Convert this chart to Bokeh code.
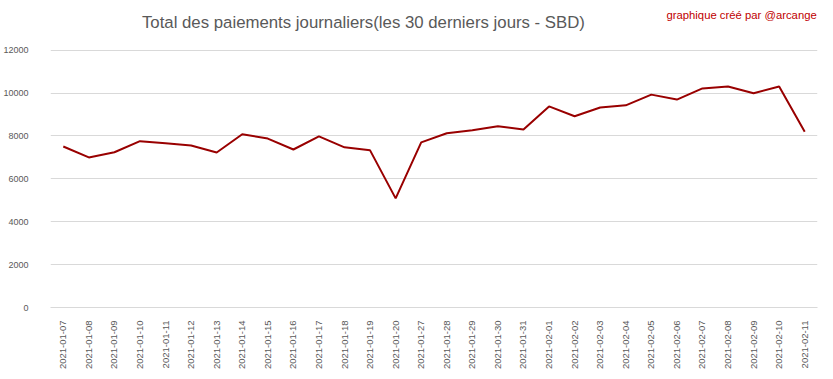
from bokeh.plotting import figure
from bokeh.models import FactorRange, Range1d, FixedTicker
from bokeh.core.properties import value
from bokeh.embed import file_html
from bokeh.resources import INLINE
import math

dates = ["2021-01-07", "2021-01-08", "2021-01-09", "2021-01-10", "2021-01-11",
         "2021-01-12", "2021-01-13", "2021-01-14", "2021-01-15", "2021-01-16",
         "2021-01-17", "2021-01-18", "2021-01-19", "2021-01-20", "2021-01-27",
         "2021-01-28", "2021-01-29", "2021-01-30", "2021-01-31", "2021-02-01",
         "2021-02-02", "2021-02-03", "2021-02-04", "2021-02-05", "2021-02-06",
         "2021-02-07", "2021-02-08", "2021-02-09", "2021-02-10", "2021-02-11"]
payments = [7510, 7000, 7240, 7760, 7660, 7560, 7230, 8080, 7880, 7370,
            7980, 7470, 7330, 5090, 7700, 8130, 8270, 8450, 8300, 9380,
            8920, 9330, 9430, 9930, 9700, 10220, 10310, 9990, 10310, 8200]
y_ticks = [0, 2000, 4000, 6000, 8000, 10000, 12000]

title_text = "Total des paiements journaliers(les 30 derniers jours - SBD)"
credit_text = "graphique créé par @arcange"

p = figure(frame_width=767, frame_height=298, x_range=FactorRange(*dates),
           y_range=Range1d(0, 13900), output_backend="svg",
           toolbar_location=None, min_border_left=43, min_border_right=7,
           min_border_top=9, min_border_bottom=10)
p.outline_line_color = None
p.background_fill_color = "white"
p.border_fill_color = "white"

p.line(x=dates, y=payments, line_color="#990000", line_width=2)

p.text(x=[12.24], y=[13300], text=[title_text], text_align="center",
       text_baseline="middle", text_font=value("Liberation Sans"),
       text_font_size="16.8px", text_color="#595959")
p.text(x=[29.97], y=[13640], text=[credit_text], text_align="right",
       text_baseline="middle", text_font=value("Liberation Sans"),
       text_font_size="11.3px", text_color="#c00000")

p.yaxis.ticker = FixedTicker(ticks=y_ticks)
p.yaxis.axis_line_color = None
p.yaxis.major_tick_line_color = None
p.yaxis.minor_tick_line_color = None
p.yaxis.major_label_text_font = "Liberation Sans"
p.yaxis.major_label_text_font_size = "9px"
p.yaxis.major_label_text_color = "#595959"
p.yaxis.major_label_standoff = 16

p.xaxis.axis_line_color = "#d9d9d9"
p.xaxis.major_tick_line_color = None
p.xaxis.minor_tick_line_color = None
p.xaxis.major_label_orientation = math.pi / 2
p.xaxis.major_label_text_font = "Liberation Sans"
p.xaxis.major_label_text_font_size = "9.5px"
p.xaxis.major_label_text_color = "#595959"
p.xaxis.major_label_standoff = 7

p.xgrid.grid_line_color = None
p.ygrid.grid_line_color = "#d9d9d9"

open("out.html", "w").write(file_html(p, INLINE))
